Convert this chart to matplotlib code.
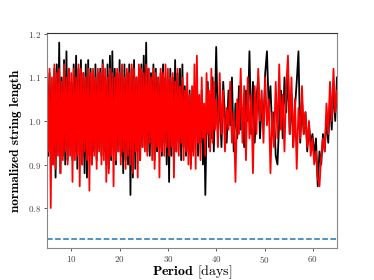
import numpy as np
import matplotlib
matplotlib.use("Agg")
import matplotlib.pyplot as plt

plt.rcParams['font.family'] = 'cmr10'
plt.rcParams['mathtext.fontset'] = 'cm'
plt.rcParams['axes.unicode_minus'] = False
plt.rcParams['axes.formatter.use_mathtext'] = True

# string length, 5-40 d every 0.25 d, then 40-65 d in 70 steps
black_dense = [
    1.10, 0.92, 1.11, 0.95, 1.08, 0.90, 1.12, 0.87, 1.13, 0.93, 1.18, 0.88, 1.10, 0.92, 1.14, 0.90, 1.16, 0.91, 1.12, 0.94,
    1.09, 0.91, 1.13, 0.93, 1.15, 0.89, 1.12, 0.95, 1.14, 0.90, 1.11, 0.88, 1.13, 0.87, 1.14, 0.92, 1.12, 0.90, 1.10, 0.93,
    1.13, 0.91, 1.11, 0.94, 1.12, 0.92, 1.14, 0.93, 1.10, 0.90, 1.13, 0.89, 1.15, 0.91, 1.16, 0.94, 1.12, 0.90, 1.11, 0.93,
    1.14, 0.92, 1.12, 0.88, 1.13, 0.91, 1.11, 0.90, 1.13, 0.83, 1.12, 0.87, 1.14, 0.89, 1.10, 0.93, 1.12, 0.91, 1.13, 0.94,
    1.15, 0.95, 1.18, 0.93, 1.12, 0.92, 1.11, 0.95, 1.13, 0.91, 1.12, 0.93, 1.10, 0.94, 1.11, 0.92, 1.13, 0.95, 1.10, 0.90,
    1.09, 0.86, 1.12, 0.92, 1.10, 0.94, 1.14, 0.93, 1.11, 0.95, 1.12, 0.91, 1.13, 0.94, 1.08, 0.92, 1.06, 0.93, 1.07, 0.90,
    1.04, 0.93, 1.08, 0.97, 1.10, 0.92, 1.03, 0.95, 1.07, 0.90, 1.02, 0.83, 0.99, 1.09, 0.94, 1.06, 0.96, 1.10, 0.93, 1.04,
]
black_sparse = [
    1.17, 0.97, 1.06, 0.94, 1.09, 1.01, 0.95, 1.07, 0.99, 1.10,
    0.93, 1.04, 0.96, 1.08, 0.98, 1.03, 0.94, 1.07, 1.00, 1.16,
    0.97, 1.09, 0.95, 1.05, 1.10, 0.96, 1.04, 0.99, 1.11, 1.16,
    1.03, 1.08, 0.97, 1.02, 0.92, 0.90, 1.00, 1.07, 0.96, 1.10,
    1.02, 1.12, 0.97, 1.06, 0.94, 1.03, 1.09, 1.16, 0.95, 1.05,
    0.97, 1.02, 0.93, 0.99, 0.95, 0.97, 0.92, 0.96, 0.85, 0.93,
    0.90, 0.97, 0.93, 1.01, 0.95, 1.05, 0.98, 1.08, 1.00, 1.10,
]
red_dense = [
    1.08, 0.93, 1.12, 0.80, 1.10, 0.90, 1.13, 0.89, 1.11, 0.92, 1.12, 0.88, 1.09, 0.91, 1.13, 0.93, 1.10, 0.90, 1.12, 0.92,
    1.11, 0.86, 1.12, 0.91, 1.10, 0.92, 1.13, 0.85, 1.12, 0.90, 1.11, 0.93, 1.10, 0.91, 1.12, 0.84, 1.11, 0.90, 1.12, 0.92,
    1.10, 0.89, 1.12, 0.93, 1.11, 0.90, 1.13, 0.91, 1.12, 0.86, 1.10, 0.88, 1.12, 0.92, 1.11, 0.85, 1.10, 0.91, 1.12, 0.93,
    1.11, 0.90, 1.13, 0.93, 1.10, 0.89, 1.12, 0.92, 1.11, 0.90, 1.13, 0.88, 1.12, 0.93, 1.10, 0.87, 1.13, 0.91, 1.12, 0.94,
    1.11, 0.93, 1.13, 0.92, 1.12, 0.95, 1.10, 0.91, 1.12, 0.89, 1.11, 0.94, 1.10, 0.87, 1.12, 0.93, 1.11, 0.92, 1.13, 0.94,
    1.12, 0.92, 1.10, 0.94, 1.11, 0.87, 1.09, 0.93, 1.12, 0.92, 1.08, 0.95, 1.10, 0.91, 1.07, 0.93, 1.11, 0.90, 1.06, 0.89,
    1.08, 0.92, 1.13, 0.89, 1.15, 0.95, 1.06, 0.91, 1.10, 0.96, 1.04, 0.92, 1.11, 0.97, 1.07, 0.93, 1.12, 0.95, 1.09, 0.98,
]
red_sparse = [
    1.05, 0.94, 1.11, 0.97, 1.07, 0.93, 1.03, 0.98, 1.09, 0.95,
    1.02, 0.86, 1.05, 0.97, 1.12, 0.95, 1.08, 0.91, 1.10, 0.96,
    1.06, 0.88, 1.08, 0.97, 1.12, 1.00, 1.07, 0.95, 1.10, 0.99,
    1.05, 0.88, 1.02, 0.94, 1.09, 0.96, 1.13, 0.98, 1.06, 0.93,
    1.08, 1.15, 0.97, 1.10, 0.94, 1.05, 0.89, 1.03, 0.96, 1.08,
    0.97, 1.02, 0.94, 1.00, 0.92, 0.96, 0.90, 0.93, 0.87, 0.85,
    0.92, 0.96, 0.93, 1.04, 0.97, 1.09, 1.00, 1.12, 1.02, 1.07,
]
threshold = 0.729

period_dense = np.linspace(5, 40, len(black_dense), endpoint=False)
period_sparse = np.linspace(40, 65, len(black_sparse))
period = np.concatenate([period_dense, period_sparse])
black = np.concatenate([black_dense, black_sparse])
red = np.concatenate([red_dense, red_sparse])

fig = plt.figure(figsize=(3.74, 2.8), dpi=100)
ax = fig.add_axes([0.126, 0.114, 0.775, 0.768])

ax.plot(period, black, color='black', lw=1.3)
ax.plot(period, red, color='red', lw=1.3)
ax.axhline(threshold, color='#1f77b4', ls='--', lw=1.1)

ax.set_xlim(5, 65)
ax.set_ylim(0.708, 1.202)
ax.set_xticks([10, 20, 30, 40, 50, 60])
ax.set_yticks([0.8, 0.9, 1.0, 1.1, 1.2])
ax.tick_params(labelsize=6.5, length=2.5, width=0.6, colors='#444444', pad=2)
for side in ['left', 'right', 'bottom']:
    ax.spines[side].set_color('#888888')
ax.spines['top'].set_color('#333333')

ax.set_xlabel(r'$\mathbf{Period}$ [days]', fontsize=10, labelpad=-1.5)
ax.set_ylabel('normalized string length', fontfamily='cmb10', fontsize=9.5, labelpad=4)

fig.savefig('out.png', dpi=100)
